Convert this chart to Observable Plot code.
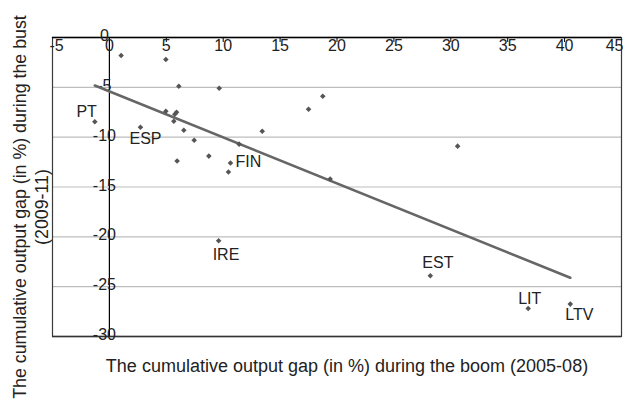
<!DOCTYPE html>
<html>
<head>
<meta charset="utf-8">
<script src="https://cdn.jsdelivr.net/npm/d3@7"></script>
<script src="https://cdn.jsdelivr.net/npm/@observablehq/plot@0.6"></script>
<style>
  html, body { margin: 0; padding: 0; background: #fff; }
</style>
</head>
<body>
<div id="chart"></div>
<script>
// Cumulative output gap (%) during the boom (2005-08)
const boom = [1.03, 4.96, 6.1, 9.65, -1.28, 2.73, 4.96, 5.9, 5.75, 5.66, 6.54, 7.45, 5.95, 8.74, 10.64, 10.46, 11.4, 13.43, 17.5, 19.4, 18.75, 30.6, 28.2, 36.8, 40.5, 9.6];
// Cumulative output gap (%) during the bust (2009-11)
const bust = [-1.8, -2.2, -4.9, -5.1, -8.46, -9.0, -7.4, -7.5, -7.7, -8.4, -9.3, -10.3, -12.4, -11.9, -12.6, -13.5, -10.7, -9.4, -7.2, -14.2, -5.9, -10.9, -23.9, -27.2, -26.75, -20.4];
// Country labels (only some are shown)
const names = ["", "", "", "", "PT", "ESP", "", "", "", "", "", "", "", "", "FIN", "", "", "", "", "", "", "", "EST", "LIT", "LTV", "IRE"];

const xTicks = [-5, 0, 5, 10, 15, 20, 25, 30, 35, 40, 45];
const yTicks = [0, -5, -10, -15, -20, -25, -30];
const yGrid = [-5, -10, -15, -20, -25];
const xTitle = "The cumulative output gap (in %) during the boom (2005-08)";
const yTitle = "The cumulative output gap (in %) during the bust\n(2009-11)";

const data = boom.map((b, i) => ({boom: b, bust: bust[i], name: names[i]}));

const font = "'Liberation Sans', Arial, Helvetica, sans-serif";
const textColor = "#222";

function label(name, opts) {
  return Plot.text(data.filter(d => d.name === name), {
    x: "boom", y: "bust", text: "name", fill: textColor, fontSize: 16, ...opts
  });
}

const chart = Plot.plot({
  width: 627,
  height: 404,
  marginLeft: 52,
  marginRight: 6,
  marginTop: 37,
  marginBottom: 68,
  style: {fontFamily: font, fontSize: "16px", color: textColor, background: "#fff"},
  x: {domain: [-5, 45]},
  y: {domain: [-30, 0], axis: null},
  marks: [
    Plot.gridY(yGrid, {stroke: "#bdbdbd", strokeOpacity: 1, strokeWidth: 1.2}),
    Plot.frame({stroke: "#3a3a3a", strokeWidth: 1.2}),
    Plot.ruleY([-30], {stroke: "#333", strokeWidth: 1.6}),
    Plot.ruleX([0], {stroke: "#000", strokeWidth: 1.2}),
    Plot.ruleY([0], {stroke: "#000", strokeWidth: 1.4}),
    Plot.axisX({anchor: "top", ticks: xTicks.slice(2, -1), tickSize: 4, dy: 4, tickFormat: () => "", label: null, stroke: "#000"}),
    // x tick labels (top, inside)
    Plot.text(xTicks.slice(0, 1), {x: d => d, text: d => String(d), frameAnchor: "top", lineAnchor: "top", textAnchor: "start", dx: -3, dy: 2, fill: textColor}),
    Plot.text(xTicks.slice(1, -1), {x: d => d, text: d => String(d), frameAnchor: "top", lineAnchor: "top", dy: 2, fill: textColor}),
    Plot.text(xTicks.slice(-1), {x: d => d, text: d => String(d), frameAnchor: "top", lineAnchor: "top", textAnchor: "end", dx: 2, dy: 2, fill: textColor}),
    // y tick labels, centered on the vertical axis at x = 0
    Plot.text(yTicks, {x: () => 0, y: d => d, text: d => String(d), dx: -5, dy: -1.5, fill: textColor}),
    // regression line
    Plot.linearRegressionY(data, {x: "boom", y: "bust", ci: 0, stroke: "#666", strokeWidth: 2.6}),
    // points
    Plot.dot(data, {x: "boom", y: "bust", symbol: "diamond2", r: 2.5, fill: "#555", stroke: null}),
    // country labels
    label("PT", {textAnchor: "end", dx: 2, dy: -10}),
    label("ESP", {textAnchor: "start", dx: -11, dy: 12}),
    label("FIN", {textAnchor: "start", dx: 5, dy: -1}),
    label("IRE", {textAnchor: "start", dx: -6, dy: 14}),
    label("EST", {textAnchor: "start", dx: -8, dy: -13}),
    label("LIT", {textAnchor: "start", dx: -10, dy: -10}),
    label("LTV", {textAnchor: "start", dx: -5, dy: 11}),
    // axis titles
    Plot.text([xTitle], {frameAnchor: "bottom", text: d => d, textAnchor: "middle", dx: 10, dy: 35, fontSize: 18, fill: textColor}),
    Plot.text([yTitle], {frameAnchor: "left", text: d => d, textAnchor: "middle", lineAnchor: "middle", rotate: -90, dx: -23, dy: 20, lineHeight: 1.25, fontSize: 17.8, fill: textColor})
  ]
});
document.getElementById("chart").append(chart);
</script>
</body>
</html>
